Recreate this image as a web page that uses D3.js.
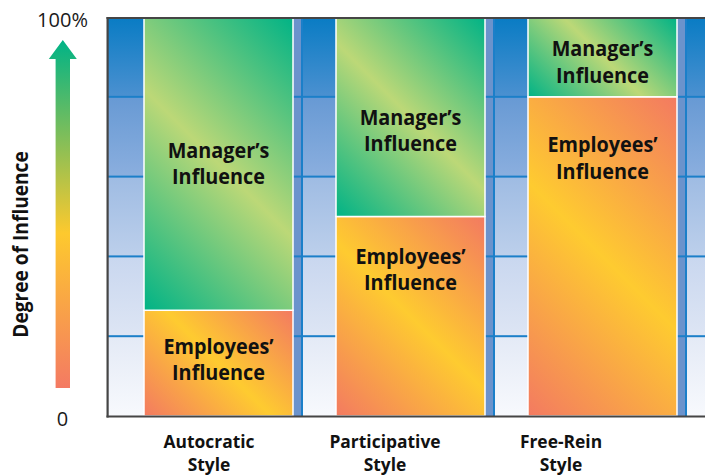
<!DOCTYPE html>
<html><head><meta charset="utf-8">
<script src="https://cdn.jsdelivr.net/npm/d3@7"></script>
<style>body{margin:0;background:#fff;} svg{display:block;}</style>
</head><body>
<svg id="chart" width="705" height="476"></svg>
<script>
// ---- data ----
const categories = ["Autocratic", "Participative", "Free-Rein"];
const categorySub = ["Style", "Style", "Style"];
const employeesInfluence = [26.5, 50, 80];
const managerInfluence = [73.5, 50, 20];
const managerLabel = ["Manager’s", "Influence"];
const employeesLabel = ["Employees’", "Influence"];
const managerLabelAt = [63.4, 71.6, 88.8];
const employeesLabelAt = [14.2, 36.8, 64.7];
const gridValues = [20, 40, 60, 80];
const yTickValues = [0, 100];
const yTickLabels = ["0", "100%"];
const axisTitle = "Degree of Influence";

// ---- setup ----
const W = 705, H = 476;
const FONT = "'Open Sans', 'Noto Sans', sans-serif";
const svg = d3.select("#chart");
const defs = svg.append("defs");
const y = d3.scaleLinear().domain([0, 100]).range([416, 17]);
const slot = d3.scaleBand().domain(categories).range([111, 687]).padding(0);
const labelX = d3.scalePoint().domain(categories).range([209, 561]);
const plotLeft = 107.5;

const TEAL = "#00b386", LGREEN = "#bcd877", SALMON = "#f37a61", YELLOW = "#fecb30";

// background gradient (banded between gridlines)
const bg = defs.append("linearGradient").attr("id", "bgGrad")
  .attr("gradientUnits", "userSpaceOnUse").attr("x1", 0).attr("y1", y(100)).attr("x2", 0).attr("y2", y(0));
const bands = [["#0a7cc4", "#4a90d0"], ["#689ad4", "#8aaede"], ["#9fbce3", "#bccfeb"], ["#c9d7ef", "#dde5f4"], ["#e4eaf6", "#f7f9fd"]];
bands.forEach(([c0, c1], b) => {
  bg.append("stop").attr("offset", b * 0.2 + 0.004).attr("stop-color", c0);
  bg.append("stop").attr("offset", (b + 1) * 0.2 - 0.004).attr("stop-color", c1);
});

svg.append("rect").attr("x", plotLeft).attr("y", y(100)).attr("width", W - plotLeft).attr("height", y(0) - y(100))
  .attr("fill", "url(#bgGrad)");

const slotStarts = categories.map(c => slot(c));
svg.selectAll(".strip").data(slotStarts).join("rect").attr("class", "strip")
  .attr("x", d => d + 182).attr("y", y(100)).attr("width", 8).attr("height", y(0) - y(100)).attr("fill", "#6b93cc");
svg.selectAll(".divider").data(slotStarts).join("rect").attr("class", "divider")
  .attr("x", d => d + 190).attr("y", y(100)).attr("width", 2).attr("height", y(0) - y(100)).attr("fill", "#1b7fc9");

svg.selectAll(".grid").data(gridValues).join("rect").attr("class", "grid")
  .attr("x", plotLeft).attr("y", d => y(d) - 1).attr("width", W - plotLeft).attr("height", 2).attr("fill", "#1b7fc9");

// bars
const barOff = 33, barW = 149;
function diagGrad(id, x0, yTop, yBot, w, c1, c2) {
  const h = yBot - yTop, d = (w + h) / 2;
  const g = defs.append("linearGradient").attr("id", id).attr("gradientUnits", "userSpaceOnUse")
    .attr("x1", x0).attr("y1", yBot).attr("x2", x0 + d).attr("y2", yBot - d);
  g.append("stop").attr("offset", 0).attr("stop-color", c1);
  g.append("stop").attr("offset", 0.5).attr("stop-color", c2);
  g.append("stop").attr("offset", 1).attr("stop-color", c1);
}
const segs = [];
categories.forEach((c, i) => {
  const x0 = slot(c) + barOff;
  segs.push({ i, x: x0, y0: 0, y1: employeesInfluence[i], lab: employeesLabel, at: employeesLabelAt[i], c1: SALMON, c2: YELLOW });
  segs.push({ i, x: x0, y0: employeesInfluence[i], y1: employeesInfluence[i] + managerInfluence[i], lab: managerLabel, at: managerLabelAt[i], c1: TEAL, c2: LGREEN });
});
segs.forEach((s, k) => { s.id = "g" + k; diagGrad(s.id, s.x, y(s.y1), y(s.y0), barW, s.c1, s.c2); });

svg.selectAll(".seg").data(segs).join("rect").attr("class", "seg")
  .attr("x", d => d.x).attr("y", d => y(d.y1)).attr("width", barW).attr("height", d => y(d.y0) - y(d.y1))
  .attr("fill", d => `url(#${d.id})`).attr("stroke", "#ffffff").attr("stroke-width", 1.5);

// multi-line condensed text as a single text element
function condText(parent, x, yy, lines, lineH, size, weight, sx, rot) {
  const g = parent.append("g").attr("transform", `translate(${x},${yy})${rot ? ` rotate(${rot})` : ""} scale(${sx},1)`);
  const t = g.append("text").attr("text-anchor", "middle").attr("font-family", FONT).attr("font-size", size)
    .attr("font-weight", weight).attr("fill", "#111");
  lines.forEach((ln, k) => t.append("tspan").attr("x", 0).attr("y", k * lineH).text(ln));
}
segs.forEach(s => {
  condText(svg, s.x + barW / 2, y(s.at) - 5.5, s.lab, 26.5, 21, 700, 0.943);
});

// frame
svg.append("rect").attr("x", 106.5).attr("y", 17).attr("width", W - 106.5).attr("height", 2).attr("fill", "#454545");
svg.append("rect").attr("x", 106.5).attr("y", 415.5).attr("width", W - 106.5).attr("height", 2).attr("fill", "#454545");
svg.append("rect").attr("x", 106.5).attr("y", 17).attr("width", 2.2).attr("height", 400.5).attr("fill", "#454545");

// category labels
categories.forEach((c, i) => {
  condText(svg, labelX(c), 447.8, [c, categorySub[i]], 23.3, 18.5, 700, 0.942);
});

// y tick labels
svg.selectAll(".ytick").data(yTickValues).join("text").attr("class", "ytick")
  .attr("x", 62.5).attr("y", d => y(d) + 9.7).attr("text-anchor", "middle")
  .attr("font-family", FONT).attr("font-size", 20).attr("fill", "#1a1a1a")
  .text((d, i) => yTickLabels[i]);

// arrow
const ag = defs.append("linearGradient").attr("id", "arrowGrad").attr("gradientUnits", "userSpaceOnUse")
  .attr("x1", 0).attr("y1", 40).attr("x2", 0).attr("y2", 388);
[[0, TEAL], [0.555, "#fdc92e"], [1, "#f47a63"]].forEach(([o, c]) => ag.append("stop").attr("offset", o).attr("stop-color", c));
const ax = 62.8, tipY = 40, headY = 59, botY = 388, shaftHalf = 7.2, headHalf = 14;
const ap = d3.path();
ap.moveTo(ax - shaftHalf, botY); ap.lineTo(ax - shaftHalf, headY); ap.lineTo(ax - headHalf, headY);
ap.lineTo(ax, tipY); ap.lineTo(ax + headHalf, headY); ap.lineTo(ax + shaftHalf, headY); ap.lineTo(ax + shaftHalf, botY); ap.closePath();
svg.append("path").attr("d", ap.toString()).attr("fill", "url(#arrowGrad)");

// axis title
condText(svg, 28.3, 244.5, [axisTitle], 0, 22, 700, 0.87, -90);
</script>
</body></html>
